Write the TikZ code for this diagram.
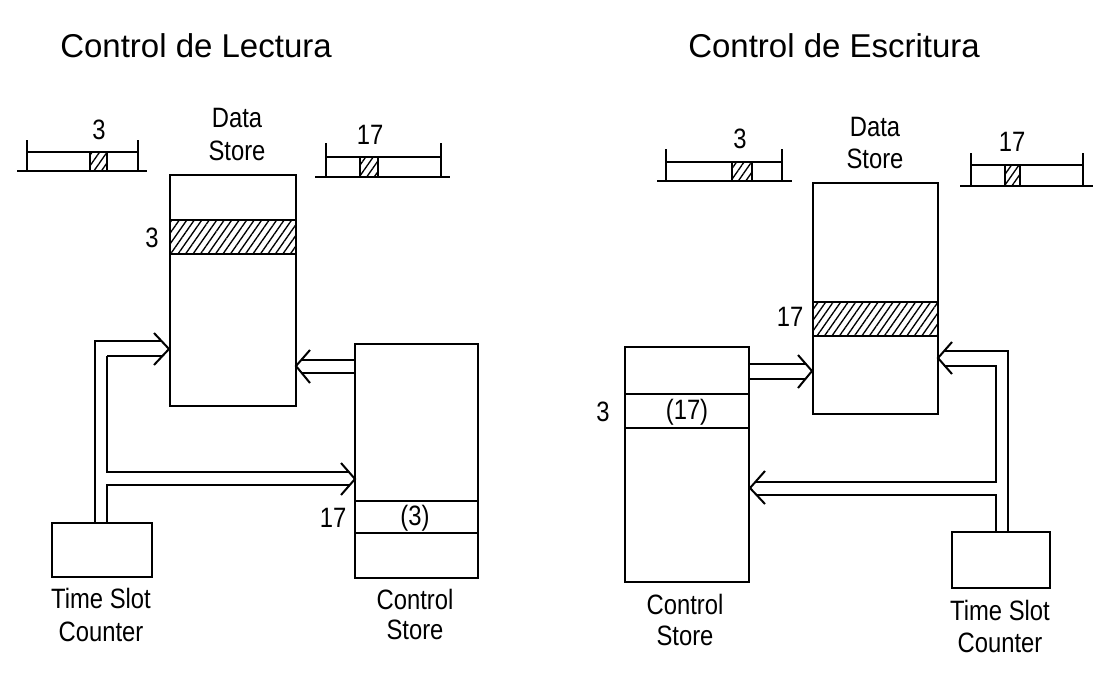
\documentclass[tikz,border=0pt]{standalone}
\usepackage{fontspec}
\setmainfont{Liberation Sans}
\newfontfamily\labfont[FakeStretch=0.85]{Liberation Sans}
\usetikzlibrary{patterns.meta}
\tikzset{
  box/.style={draw, line width=1.8pt, inner sep=0pt, outer sep=0pt, anchor=north west},
  sz/.style 2 args={minimum width=#1*0.75pt, minimum height=#2*0.75pt},
  hatch/.style={pattern={Lines[angle=55,distance=4.6pt,line width=1pt]}},
  bus/.style={line width=1.5pt},
  chev/.style={line width=1.5pt},
  rowline/.style={line width=1.8pt},
  framel/.style={line width=1.5pt},
  lab/.style={font=\labfont\fontsize{21}{24}\selectfont, inner sep=0pt},
  ttl/.style={font=\fontsize{24.75}{28}\selectfont, inner sep=0pt, anchor=base west},
}
\begin{document}
\begin{tikzpicture}[x=0.75pt,y=-0.75pt]
\path[fill=white] (0,0) rectangle (1110,690);
\useasboundingbox (0,0) rectangle (1110,690);

% ---------------- titles
\node[ttl] (t1) at (60,57) {Control de Lectura};
\node[ttl] (t2) at (688,57) {Control de Escritura};

% ================= LEFT: Control de Lectura
% small frame "3"
\path[hatch] (90,152) rectangle (107,171);
\draw[framel] (90,152) -- (90,171) (107,152) -- (107,171);
\draw[framel] (27,140) -- (27,171) (138,140) -- (138,171);
\draw[framel] (27,152) -- (138,152);
\draw[framel] (17,171) -- (147,171);
\node[lab] (f1) at (99,130) {3};
% small frame "17"
\path[hatch] (360,157) rectangle (378,177);
\draw[framel] (360,157) -- (360,177) (378,157) -- (378,177);
\draw[framel] (326,143) -- (326,177) (441,143) -- (441,177);
\draw[framel] (326,157) -- (441,157);
\draw[framel] (315,177) -- (450,177);
\node[lab] (f2) at (370,135) {17};

% Data Store
\node[box, sz={126}{231}] (ds1) at (170,175) {};
\path[hatch] (170,220) rectangle (296,254);
\draw[rowline] (170,220) -- (296,220) (170,254) -- (296,254);
\node[lab] (ds1a) at (237,118) {Data};
\node[lab] (ds1b) at (237,151) {Store};
\node[lab] (ds1n) at (152,238) {3};

% Control Store
\node[box, sz={123}{234}] (cs1) at (355,344) {};
\draw[rowline] (355,501) -- (478,501) (355,533) -- (478,533);
\node[lab] (cs1v) at (415,518) {(3)};
\node[lab] (cs1n) at (333,518) {17};
\node[lab] (cs1a) at (415,599) {Control};
\node[lab] (cs1b) at (415,630) {Store};

% Time Slot Counter
\node[box, sz={100}{54}] (tsc1) at (52,523) {};
\node[lab] (tsc1a) at (101,598) {Time Slot};
\node[lab] (tsc1b) at (101,632) {Counter};

% buses
\coordinate (a1) at (95,523);
\coordinate (a2) at (107,523);
\draw[bus] (a1) -- (95,341) -- (162,341);
\draw[bus] (107,356) -- (162,356);
\draw[bus] (107,356) -- (107,472) -- (349,472);
\draw[bus] (a2) -- (107,485) -- (349,485);
\draw[chev] (154,333) -- (169,349) -- (154,365);
\draw[chev] (341,463) -- (355,479) -- (341,495);
% control store -> data store
\draw[bus] (355,360) -- (302,360) (355,373) -- (302,373);
\draw[chev] (310,350) -- (296,366) -- (310,383);

% ================= RIGHT: Control de Escritura
% small frame "3"
\path[hatch] (732,162) rectangle (752,181);
\draw[framel] (732,162) -- (732,181) (752,162) -- (752,181);
\draw[framel] (666,149) -- (666,181) (782,149) -- (782,181);
\draw[framel] (666,162) -- (782,162);
\draw[framel] (657,181) -- (792,181);
\node[lab] (f3) at (740,139) {3};
% small frame "17"
\path[hatch] (1005,165) rectangle (1020,186);
\draw[framel] (1005,165) -- (1005,186) (1020,165) -- (1020,186);
\draw[framel] (971,153) -- (971,186) (1083,153) -- (1083,186);
\draw[framel] (971,165) -- (1083,165);
\draw[framel] (960,186) -- (1093,186);
\node[lab] (f4) at (1012,142) {17};

% Data Store
\node[box, sz={125}{231}] (ds2) at (813,183) {};
\path[hatch] (813,302) rectangle (938,336);
\draw[rowline] (813,302) -- (938,302) (813,336) -- (938,336);
\node[lab] (ds2a) at (875,127) {Data};
\node[lab] (ds2b) at (875,159) {Store};
\node[lab] (ds2n) at (790,317) {17};

% Control Store
\node[box, sz={124}{235}] (cs2) at (625,347) {};
\draw[rowline] (625,394) -- (749,394) (625,428) -- (749,428);
\node[lab] (cs2v) at (687,412) {(17)};
\node[lab] (cs2n) at (603,412) {3};
\node[lab] (cs2a) at (685,604) {Control};
\node[lab] (cs2b) at (685,636) {Store};

% Time Slot Counter
\node[box, sz={98}{56}] (tsc2) at (952,532) {};
\node[lab] (tsc2a) at (1000,610) {Time Slot};
\node[lab] (tsc2b) at (1000,643) {Counter};

% control store -> data store
\draw[bus] (749,364) -- (806,364) (749,379) -- (806,379);
\draw[chev] (798,355) -- (812,371) -- (798,388);
% buses from TSC
\coordinate (b1) at (1008,532);
\coordinate (b2) at (996,532);
\draw[bus] (b1) -- (1008,351) -- (944,351);
\draw[bus] (944,366) -- (996,366) -- (996,482) -- (756,482);
\draw[bus] (b2) -- (996,495) -- (756,495);
\draw[chev] (952,342) -- (938,358) -- (952,374);
\draw[chev] (765,471) -- (750,488) -- (765,504);
\end{tikzpicture}
\end{document}
